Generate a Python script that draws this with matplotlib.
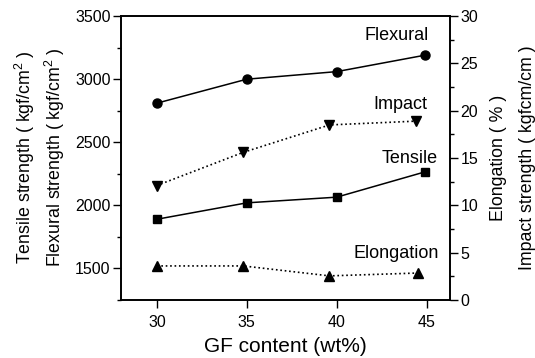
import matplotlib
matplotlib.use('Agg')
import matplotlib.pyplot as plt
from matplotlib.ticker import MultipleLocator

plt.rcParams['font.family'] = ['Liberation Sans', 'DejaVu Sans']
plt.rcParams['mathtext.default'] = 'regular'

# GF content (wt%), per series
gf_flex = [30, 35, 40, 44.9]
flexural = [2810, 3000, 3060, 3190]
gf_tens = [30, 35, 40, 44.9]
tensile = [1890, 2020, 2065, 2265]
gf_imp = [30, 34.8, 39.6, 44.4]
impact = [12.1, 15.6, 18.5, 18.9]
gf_elong = [30, 34.8, 39.6, 44.5]
elongation = [3.6, 3.6, 2.55, 2.85]

fig = plt.figure(figsize=(5.35, 3.58), dpi=100)
ax = fig.add_axes([0.226, 0.162, 0.615, 0.793])
ax2 = ax.twinx()

ax.plot(gf_flex, flexural, '-', color='black', lw=1.1, marker='o', ms=6.5)
ax.plot(gf_tens, tensile, '-', color='black', lw=1.1, marker='s', ms=5.5)
ax2.plot(gf_imp, impact, ':', color='black', lw=1.2, marker='v', ms=7)
ax2.plot(gf_elong, elongation, ':', color='black', lw=1.2, marker='^', ms=7)

ax.set_xlim(28, 46.3)
ax.set_ylim(1250, 3500)
ax2.set_ylim(0, 30)
ax.set_xticks([30, 35, 40, 45])
ax.yaxis.set_major_locator(MultipleLocator(500))
ax.yaxis.set_minor_locator(MultipleLocator(250))
ax2.yaxis.set_major_locator(MultipleLocator(5))
ax2.yaxis.set_minor_locator(MultipleLocator(2.5))

for a in (ax, ax2):
    for s in a.spines.values():
        s.set_linewidth(1.2)
    a.tick_params(which='major', direction='out', length=6, width=1.0, labelsize=11.5, pad=1.5)
    a.tick_params(which='minor', direction='out', length=3, width=1.0)
ax.tick_params(axis='x', which='major', pad=5)

ax.set_xlabel('GF content (wt%)', fontsize=15, labelpad=5)

fig.text(0.047, 0.56, 'Tensile strength ( kgf/cm$^{2}$ )', rotation=90,
         ha='center', va='center', fontsize=12.8)
fig.text(0.103, 0.56, 'Flexural strength ( kgf/cm$^{2}$ )', rotation=90,
         ha='center', va='center', fontsize=12.8)
fig.text(0.931, 0.56, 'Elongation ( % )', rotation=90,
         ha='center', va='center', fontsize=12.8)
fig.text(0.986, 0.56, 'Impact strength ( kgfcm/cm )', rotation=90,
         ha='center', va='center', fontsize=12.8)

labels = ['Flexural', 'Impact', 'Tensile', 'Elongation']
label_pos = [(0.935, 0.93), (0.931, 0.69), (0.962, 0.50), (0.967, 0.165)]
for t, (x, y) in zip(labels, label_pos):
    ax.text(x, y, t, transform=ax.transAxes, ha='right', va='center', fontsize=13)

fig.savefig('out.png', dpi=100)
